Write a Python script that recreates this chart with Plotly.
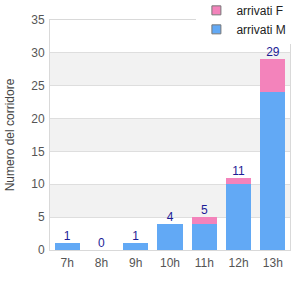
import plotly.graph_objects as go

categories = ["7h", "8h", "9h", "10h", "11h", "12h", "13h"]
arrivati_m = [1, 0, 1, 4, 4, 10, 24]
arrivati_f = [0, 0, 0, 0, 1, 1, 5]
totals = [m + f for m, f in zip(arrivati_m, arrivati_f)]
y_ticks = [0, 5, 10, 15, 20, 25, 30, 35]

col_m = "#62a9f5"
col_f = "#f383bb"
FONT = "Arial, Liberation Sans, sans-serif"

fig = go.Figure()
fig.add_trace(go.Bar(x=categories, y=arrivati_m, name="arrivati M", showlegend=False,
                     marker=dict(color=col_m, line=dict(width=0))))
fig.add_trace(go.Bar(x=categories, y=arrivati_f, name="arrivati F", showlegend=False,
                     marker=dict(color=col_f, line=dict(width=0))))
fig.add_trace(go.Scatter(x=categories, y=totals, mode="text", text=[str(t) for t in totals],
                         textposition="top center", showlegend=False, hoverinfo="skip",
                         textfont=dict(color="#1c1c96", size=12, family=FONT)))
# legend entries
fig.add_trace(go.Scatter(x=[None], y=[None], mode="markers", name="arrivati F",
                         marker=dict(symbol="square", size=9, color=col_f,
                                     line=dict(color="#777777", width=1))))
fig.add_trace(go.Scatter(x=[None], y=[None], mode="markers", name="arrivati M",
                         marker=dict(symbol="square", size=9, color=col_m,
                                     line=dict(color="#777777", width=1))))

shapes = []
for i in range(len(y_ticks) - 1):
    if i % 2 == 1:
        shapes.append(dict(type="rect", xref="paper", yref="y", x0=0, x1=1,
                           y0=y_ticks[i], y1=y_ticks[i + 1], fillcolor="#f2f2f2",
                           line=dict(width=0), layer="below"))

fig.update_layout(
    width=300, height=300, barmode="stack", bargap=0.27,
    margin=dict(l=50, r=10, t=20, b=50, autoexpand=False),
    paper_bgcolor="white", plot_bgcolor="white",
    font=dict(family=FONT, size=12, color="#444444"),
    shapes=shapes,
    legend=dict(x=0.61, y=1.105, xanchor="left", yanchor="top", bgcolor="white",
                font=dict(size=12, color="#222222", family=FONT), itemwidth=30,
                tracegroupgap=0, traceorder="normal"),
    xaxis=dict(showline=True, linecolor="#d9d9d9", linewidth=1, mirror=True,
               ticks="outside", ticklen=2, tickcolor="rgba(0,0,0,0)",
               tickfont=dict(size=12, color="#555555")),
    yaxis=dict(range=[0, 35], tickvals=y_ticks, showgrid=True, gridcolor="#dedede",
               showline=True, linecolor="#d9d9d9", mirror=True, zeroline=False,
               ticks="outside", ticklen=2, tickcolor="rgba(0,0,0,0)",
               title=dict(text="Numero del corridore", font=dict(size=12, color="#444444"), standoff=14),
               tickfont=dict(size=12, color="#555555")),
)

fig.write_html("out.html")
